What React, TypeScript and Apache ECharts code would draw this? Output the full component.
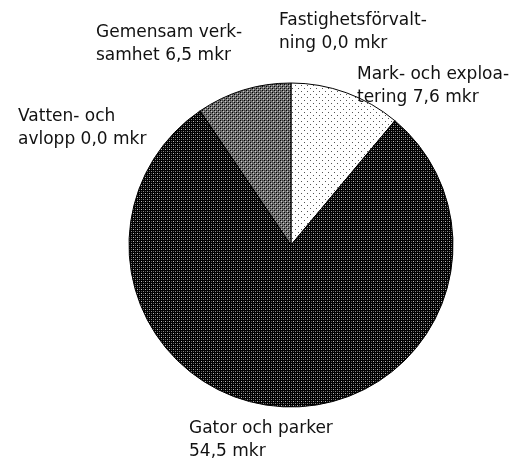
import React, { useEffect, useRef } from "react";
import * as echarts from "echarts";

const categories = [
  "Fastighetsförvalt-\nning",
  "Mark- och exploa-\ntering",
  "Gator och parker",
  "Vatten- och\navlopp",
  "Gemensam verk-\nsamhet",
];
const values = [0.0, 7.6, 54.5, 0.0, 6.5];

const labelPos: [number, number][] = [
  [279, 7],
  [357, 61],
  [189, 415],
  [18, 103],
  [96, 19],
];

function makePattern(size: [number, number], bg: string, pixels: [number, number, string][]) {
  const c = document.createElement("canvas");
  c.width = size[0];
  c.height = size[1];
  const ctx = c.getContext("2d")!;
  ctx.fillStyle = bg;
  ctx.fillRect(0, 0, size[0], size[1]);
  pixels.forEach(([x, y, col]) => {
    ctx.fillStyle = col;
    ctx.fillRect(x, y, 1, 1);
  });
  return { image: c, repeat: "repeat" as const };
}

export default function App() {
  const ref = useRef<HTMLDivElement>(null);
  useEffect(() => {
    if (!ref.current) return;
    document.body.style.margin = "0";
    document.body.style.overflow = "hidden";
    const chart = echarts.init(ref.current, undefined, { renderer: "svg" });
    const dots = makePattern([6, 6], "#ffffff", [
      [1, 1, "#555555"],
      [4, 4, "#555555"],
    ]);
    const dark = makePattern([4, 4], "#000000", [
      [1, 1, "#bbbbbb"],
      [3, 3, "#888888"],
      [3, 1, "#555555"],
      [1, 3, "#555555"],
    ]);
    const gray = makePattern([4, 4], "#707070", [
      [0, 0, "#000000"],
      [2, 2, "#000000"],
      [1, 1, "#c8c8c8"],
      [3, 3, "#c8c8c8"],
      [2, 0, "#404040"],
      [0, 2, "#404040"],
    ]);
    const fills = [dots, dots, dark, dark, gray];
    chart.setOption({
      animation: false,
      series: [
        {
          type: "pie",
          center: [291, 245],
          radius: [0, 162],
          startAngle: 90,
          clockwise: true,
          avoidLabelOverlap: false,
          stillShowZeroSum: true,
          minShowLabelAngle: 0,
          data: categories.map((name, i) => ({
            name,
            value: values[i],
            itemStyle: { color: fills[i] as any },
          })),
          itemStyle: { borderColor: "#000", borderWidth: 1 },
          label: {
            show: true,
            position: "outside",
            color: "#111",
            fontFamily: "DejaVu Sans",
            fontSize: 17,
            lineHeight: 23,
            formatter: (p: any) =>
              p.name + (p.name.includes("\n") ? " " : "\n") +
              p.value.toFixed(1).replace(".", ",") + " mkr",
          },
          labelLine: { show: false },
          labelLayout: (p: any) => ({
            x: labelPos[p.dataIndex][0],
            y: labelPos[p.dataIndex][1],
            align: "left",
            verticalAlign: "top",
          }),
          emphasis: { disabled: true },
        },
      ],
    });
    return () => chart.dispose();
  }, []);
  return (
    <div
      ref={ref}
      style={{ position: "fixed", left: 0, top: 0, width: 527, height: 461 }}
    />
  );
}
